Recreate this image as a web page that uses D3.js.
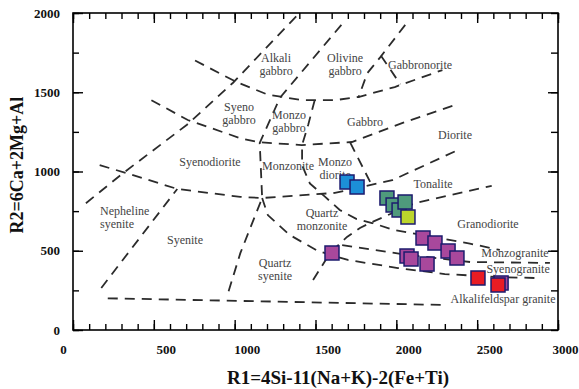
<!DOCTYPE html>
<html>
<head>
<meta charset="utf-8">
<script src="https://cdn.jsdelivr.net/npm/d3@7/dist/d3.min.js"></script>
<style>
  body { margin: 0; background: #fff; }
  .tick line { stroke: #000; stroke-width: 1.4px; }
  .tick text { font-family: "Liberation Serif", "Times New Roman", serif; font-weight: bold; font-size: 13px; fill: #111; }
  .field { font-family: "Liberation Serif", "Times New Roman", serif; font-size: 12px; fill: #444; }
  .title { font-family: "Liberation Serif", "Times New Roman", serif; font-weight: bold; fill: #111; }
</style>
</head>
<body>
<div id="chart"></div>
<script>
// field boundaries, [R1, R2] pairs
var lineA = [[80, 800], [310, 990], [705, 1295], [990, 1560], [1400, 2000]];
var lineB = [[165, 1040], [330, 990], [645, 890], [1035, 840], [1170, 833], [1620, 865], [1975, 945], [2380, 1135]];
var lineC = [[485, 1450], [710, 1325], [1035, 1210], [1145, 1185], [1415, 1167], [1725, 1186], [2035, 1305], [2365, 1420]];
var lineD = [[755, 1700], [1010, 1565], [1205, 1485], [1415, 1450], [1620, 1450], [1765, 1470], [1990, 1533], [2285, 1640]];
var lineE = [[1660, 1925], [1280, 1465], [1155, 1180], [1170, 833], [1035, 485], [955, 220]];
var lineS = [[2055, 1925], [1900, 1720], [1820, 1620], [1765, 1465]];
var lineT = [[1905, 1730], [2025, 1550]];
var lineH = [[1495, 1450], [1455, 1295], [1417, 1167], [1417, 1040], [1465, 925], [1560, 840], [1650, 757], [1755, 700], [1850, 675], [1990, 630], [2455, 545], [2640, 505]];
var lineM = [[1715, 1182], [1850, 910]];
var lineQ = [[175, 265], [645, 890]];
var lineK = [[1485, 315], [1590, 486], [1695, 587], [1775, 644], [1850, 681], [2115, 800], [2590, 910]];
var lineI = [[1170, 833], [1205, 725], [1340, 600], [1515, 498], [1700, 442], [2010, 391], [2300, 353], [2640, 334], [2860, 328]];
var lineU = [[1665, 536], [2035, 479], [2456, 429], [2950, 423]];
var lineZ = [[215, 200], [2300, 158]];

// field names and where they sit (R1, R2 of first text line)
var fieldNames = ["Alkali|gabbro", "Olivine|gabbro", "Gabbronorite", "Syeno|gabbro", "Monzo|gabbro", "Gabbro",
  "Diorite", "Syenodiorite", "Monzonite", "Monzo|diorite", "Tonalite", "Nepheline|syenite", "Syenite",
  "Quartz|monzonite", "Quartz|syenite", "Granodiorite", "Monzogranite", "Syenogranite", "Alkalifeldspar granite"];
var fieldR1 = [1256, 1683, 2147, 1027, 1336, 1806, 2363, 847, 1330, 1621, 2227, 167, 693, 1540, 1250, 2567, 2734, 2753, 2660];
var fieldR2 = [1716, 1716, 1672, 1407, 1356, 1312, 1230, 1060, 1035, 1060, 921, 751, 568, 738, 423, 669, 486, 385, 196];

// samples
var purpleR1 = [1602, 2165, 2239, 2320, 2375, 2066, 2091, 2190, 2648];
var purpleR2 = [486, 580, 549, 498, 454, 467, 448, 416, 297];
var greenR1 = [1942, 1980, 2017, 2054];
var greenR2 = [833, 789, 757, 808];
var yellowR1 = [2072];
var yellowR2 = [713];
var blueR1 = [1695, 1757];
var blueR2 = [934, 902];
var redR1 = [2505, 2629];
var redR2 = [328, 284];

var xMajor = [0, 500, 1000, 1500, 2000, 2500, 3000];
var yMajor = [0, 500, 1000, 1500, 2000];

var W = 579, H = 389;
var margin = {top: 13, right: 21, bottom: 59, left: 73};

var svg = d3.select("#chart").append("svg")
    .attr("width", W)
    .attr("height", H);

var x = d3.scaleLinear().domain([0, 3000]).range([margin.left, W - margin.right]);
var y = d3.scaleLinear().domain([0, 2000]).range([H - margin.bottom, margin.top]);

// minor ticks on all four sides
svg.append("g").attr("transform", "translate(0," + y(0) + ")")
    .call(d3.axisBottom(x).tickValues(d3.range(0, 3001, 100)).tickSize(-6).tickFormat(""));
svg.append("g").attr("transform", "translate(0," + y(2000) + ")")
    .call(d3.axisTop(x).tickValues(d3.range(0, 3001, 100)).tickSize(-6).tickFormat(""));
svg.append("g").attr("transform", "translate(" + x(0) + ",0)")
    .call(d3.axisLeft(y).tickValues(d3.range(0, 2001, 250)).tickSize(-6).tickFormat(""));
svg.append("g").attr("transform", "translate(" + x(3000) + ",0)")
    .call(d3.axisRight(y).tickValues(d3.range(0, 2001, 250)).tickSize(-7).tickFormat(""));

// major ticks
var xAxis = svg.append("g").attr("transform", "translate(0," + y(0) + ")")
    .call(d3.axisBottom(x).tickValues(xMajor).tickSize(-10).tickPadding(15).tickFormat(d3.format("d")));
// labels in the scan sit a little right of their ticks
xAxis.selectAll(".tick text").attr("dx", function(d) { return d === 0 ? -10 : (d === 3000 ? 7 : 12); });
svg.append("g").attr("transform", "translate(0," + y(2000) + ")")
    .call(d3.axisTop(x).tickValues(xMajor).tickSize(-10).tickFormat(""));
svg.append("g").attr("transform", "translate(" + x(0) + ",0)")
    .call(d3.axisLeft(y).tickValues(yMajor).tickSize(-10).tickPadding(13).tickFormat(d3.format("d")));
svg.append("g").attr("transform", "translate(" + x(3000) + ",0)")
    .call(d3.axisRight(y).tickValues([500, 1000, 1500]).tickSize(-10).tickFormat(""));

svg.selectAll(".domain").remove();

// frame
svg.append("rect")
    .attr("x", x(0)).attr("y", y(2000))
    .attr("width", x(3000) - x(0)).attr("height", y(0) - y(2000))
    .attr("fill", "none").attr("stroke", "#000").attr("stroke-width", 1.6);

// dashed field boundaries
var line = d3.line().x(function(d) { return x(d[0]); }).y(function(d) { return y(d[1]); });
var boundaries = [lineA, lineB, lineC, lineD, lineE, lineS, lineT, lineH, lineM, lineQ, lineK, lineI, lineU, lineZ];
svg.append("g").selectAll("path")
    .data(boundaries)
    .enter().append("path")
    .attr("d", line)
    .attr("fill", "none")
    .attr("stroke", "#2b2b2b")
    .attr("stroke-width", 1.8)
    .attr("stroke-dasharray", "10,7");

// field names
var labels = svg.append("g").selectAll("text")
    .data(fieldNames)
    .enter().append("text")
    .attr("class", "field")
    .attr("text-anchor", function(d) { return d === "Nepheline|syenite" ? "start" : "middle"; })
    .attr("x", function(d, i) { return x(fieldR1[i]); })
    .attr("y", function(d, i) { return y(fieldR2[i]); });
labels.each(function(d, i) {
    var t = d3.select(this);
    d.split("|").forEach(function(part, k) {
        t.append("tspan")
            .attr("x", x(fieldR1[i]))
            .attr("dy", k === 0 ? "0.35em" : "13px")
            .text(part);
    });
});

// samples
var groups = [
    {r1: purpleR1, r2: purpleR2, color: "#a8489c"},
    {r1: greenR1, r2: greenR2, color: "#4f9a7c"},
    {r1: yellowR1, r2: yellowR2, color: "#bcd52c"},
    {r1: blueR1, r2: blueR2, color: "#1c8fd8"},
    {r1: redR1, r2: redR2, color: "#e81c24"}
];
var square = d3.symbol().type(d3.symbolSquare).size(196);
groups.forEach(function(g) {
    svg.append("g").selectAll("path")
        .data(g.r1)
        .enter().append("path")
        .attr("d", square)
        .attr("transform", function(d, i) { return "translate(" + x(d) + "," + y(g.r2[i]) + ")"; })
        .attr("fill", g.color)
        .attr("stroke", "#1d1b6e")
        .attr("stroke-width", 1.5);
});

// axis titles
svg.append("text")
    .attr("class", "title")
    .attr("x", 338).attr("y", 384)
    .attr("text-anchor", "middle")
    .style("font-size", "19px")
    .text("R1=4Si-11(Na+K)-2(Fe+Ti)");

svg.append("text")
    .attr("class", "title")
    .attr("transform", "translate(23," + y(1040) + ") rotate(-90)")
    .attr("text-anchor", "middle")
    .style("font-size", "18px")
    .text("R2=6Ca+2Mg+Al");
</script>
</body>
</html>
